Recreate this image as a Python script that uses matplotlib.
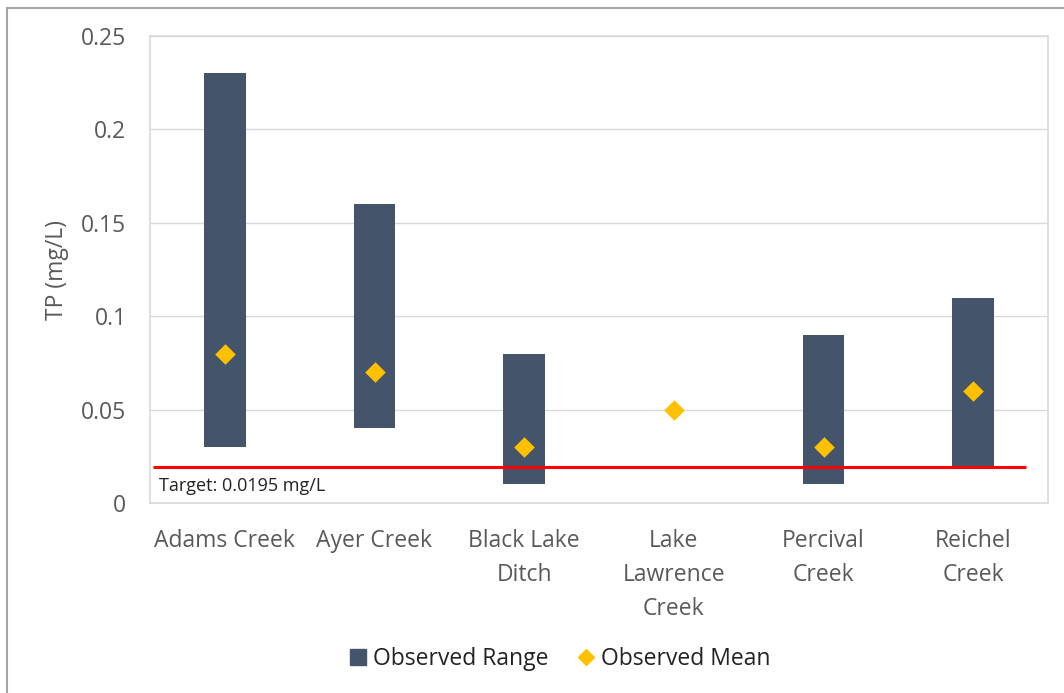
import matplotlib.pyplot as plt
from matplotlib.patches import Rectangle
from matplotlib.lines import Line2D

plt.rcParams['font.family'] = ['Open Sans', 'DejaVu Sans']

sites = ['Adams Creek', 'Ayer Creek', 'Black Lake\nDitch', 'Lake\nLawrence\nCreek',
         'Percival\nCreek', 'Reichel\nCreek']
range_low = [0.03, 0.04, 0.01, None, 0.01, 0.02]
range_high = [0.23, 0.16, 0.08, None, 0.09, 0.11]
means = [0.08, 0.07, 0.03, 0.05, 0.03, 0.06]
target = 0.0195

txt = '#595959'
grid_c = '#D9D9D9'

fig = plt.figure(figsize=(10.64, 6.93), dpi=100)
ax = fig.add_axes([150/1064, 1-503/693, 898/1064, 467/693])

x = list(range(len(sites)))
for i in x:
    if range_low[i] is not None:
        ax.bar(i, range_high[i]-range_low[i], bottom=range_low[i], width=0.28,
               color='#44546A', zorder=3)

ax.scatter(x, means, marker='D', s=110, color='#FFC000', zorder=5, linewidths=0)

ax.hlines(target, -0.48, 5.35, color='#FF0000', lw=2.2, zorder=4)
ax.text(-0.44, target-0.0055, 'Target: 0.0195 mg/L', fontsize=13, color='#222222',
        va='top', ha='left')

ax.set_xlim(-0.5, 5.5)
ax.set_ylim(0, 0.25)
ax.set_yticks([0, 0.05, 0.1, 0.15, 0.2, 0.25])
ax.set_yticklabels(['0', '0.05', '0.1', '0.15', '0.2', '0.25'])
ax.set_xticks(x)
ax.set_xticklabels(sites, linespacing=1.55)
ax.tick_params(axis='both', length=0, colors=txt, labelsize=16.5)
ax.tick_params(axis='y', pad=17)
ax.tick_params(axis='x', pad=19)
ax.yaxis.grid(True, color=grid_c, lw=1, zorder=0)
for s in ax.spines.values():
    s.set_color(grid_c)
    s.set_linewidth(1.2)

ax.set_ylabel('TP (mg/L)', fontsize=16.5, color=txt)
ax.yaxis.set_label_coords(-0.09, 0.5)

handles = [Rectangle((0, 0), 1, 1, color='#44546A'),
           Line2D([], [], marker='D', color='#FFC000', ls='none', markersize=8)]
fig.legend(handles, ['Observed Range', 'Observed Mean'], loc='center',
           bbox_to_anchor=(560/1064, 1-659/693), ncol=2, frameon=False,
           fontsize=16.5, handlelength=0.7, handletextpad=0.3, columnspacing=1.3,
           labelcolor='#222222')

# outer chart frame
fig.patches.append(Rectangle((7/1064, -0.05), 1.1, 1-8/693+0.05, transform=fig.transFigure,
                             fill=False, ec='#A6A6A6', lw=1.5))

fig.savefig('out.png', dpi=100)
